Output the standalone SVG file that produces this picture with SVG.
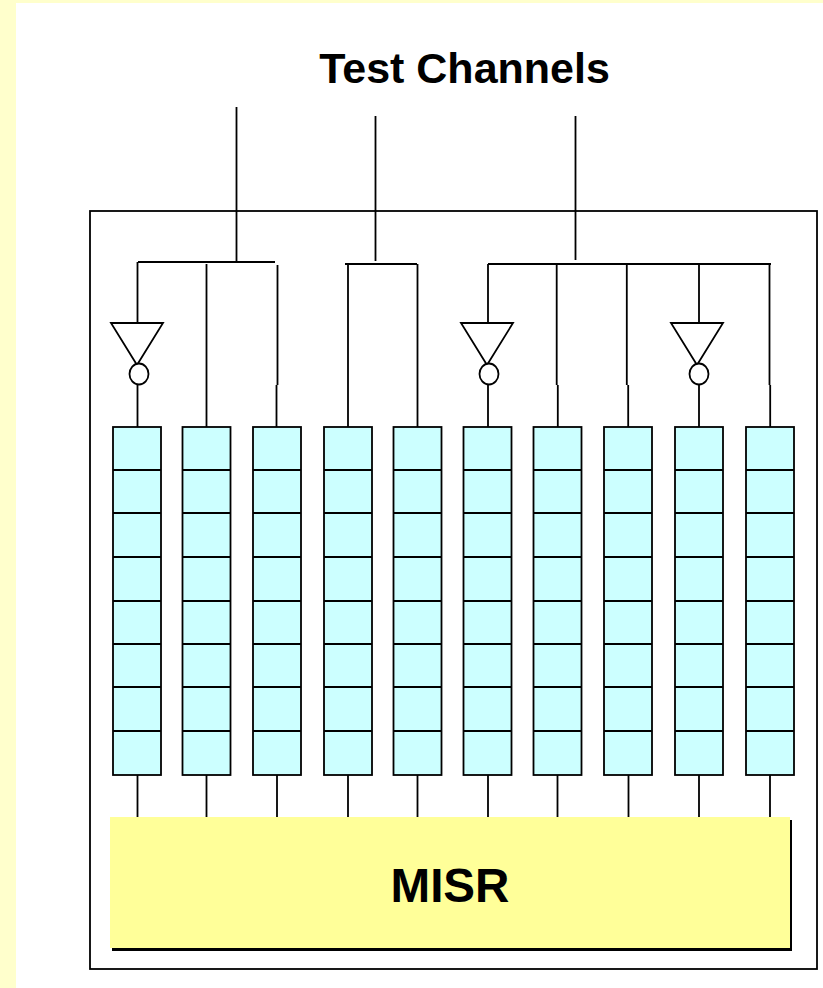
<svg xmlns="http://www.w3.org/2000/svg" width="823" height="988" viewBox="0 0 823 988">
<defs>
<g id="chain"><rect x="0" y="0" width="48" height="348"/><path d="M0 43H48M0 86H48M0 130H48M0 174H48M0 217H48M0 260H48M0 304H48"/></g>
<g id="inverter"><path d="M-27 0H25L-1 42Z"/><ellipse cx="1" cy="51" rx="9.500" ry="10.500"/></g>
</defs>
<style>
.chain{fill:#ccffff;stroke:#000;stroke-width:1.800}
.inv{fill:#fff;stroke:#000;stroke-width:1.800}
.wires path{fill:none;stroke:#000;stroke-width:1.800}
text{font-family:"Liberation Sans",Arial,sans-serif;font-weight:700;fill:#000}
</style>
<rect width="823" height="988" fill="#ffffcc"/>
<rect x="16" y="3" width="807" height="985" fill="#fff"/>
<rect id="boundary" x="90" y="211" width="727" height="758" fill="none" stroke="#000" stroke-width="1.800"/>
<text id="title" x="464.500" y="82.500" font-size="43" text-anchor="middle">Test Channels</text>
<g id="connectors" class="wires">
<path d="M236.500 107V263M375.500 116V261M575.500 116V260"/>
<path d="M138 262H275M345 264H417M488 264H771"/>
<path d="M137.500 262V323M206.500 264V427M277.500 265V385M276.500 385V427"/>
<path d="M348 264V427M417.500 264V427"/>
<path d="M488 264V323M556.700 264V385M557.800 385V427M626.800 264V385M628.200 385V427M699 264V323M769.500 264V385M770.200 385V427"/>
<path d="M137.500 385V427M488 385V427M699 385V427"/>
<path d="M137.500 775V817M206.500 775V817M277 775V817M348 775V817M417.500 775V817M488 775V817M557.500 775V817M628.500 775V817M699 775V817M770 775V817"/>
</g>
<g id="inv1" class="inv"><use href="#inverter" x="138" y="323"/></g>
<g id="inv2" class="inv"><use href="#inverter" x="488" y="323"/></g>
<g id="inv3" class="inv"><use href="#inverter" x="698" y="323"/></g>
<g id="chain1" class="chain"><use href="#chain" x="113" y="427"/></g>
<g id="chain2" class="chain"><use href="#chain" x="182.500" y="427"/></g>
<g id="chain3" class="chain"><use href="#chain" x="253" y="427"/></g>
<g id="chain4" class="chain"><use href="#chain" x="324" y="427"/></g>
<g id="chain5" class="chain"><use href="#chain" x="393.500" y="427"/></g>
<g id="chain6" class="chain"><use href="#chain" x="463.500" y="427"/></g>
<g id="chain7" class="chain"><use href="#chain" x="533.500" y="427"/></g>
<g id="chain8" class="chain"><use href="#chain" x="604" y="427"/></g>
<g id="chain9" class="chain"><use href="#chain" x="675" y="427"/></g>
<g id="chain10" class="chain"><use href="#chain" x="746" y="427"/></g>
<g id="misr">
<rect x="112" y="820" width="680" height="131" fill="#000"/>
<rect x="110" y="817" width="680" height="131" fill="#ffff99"/>
<text x="450" y="902" font-size="47.600" text-anchor="middle">MISR</text>
</g>
</svg>
